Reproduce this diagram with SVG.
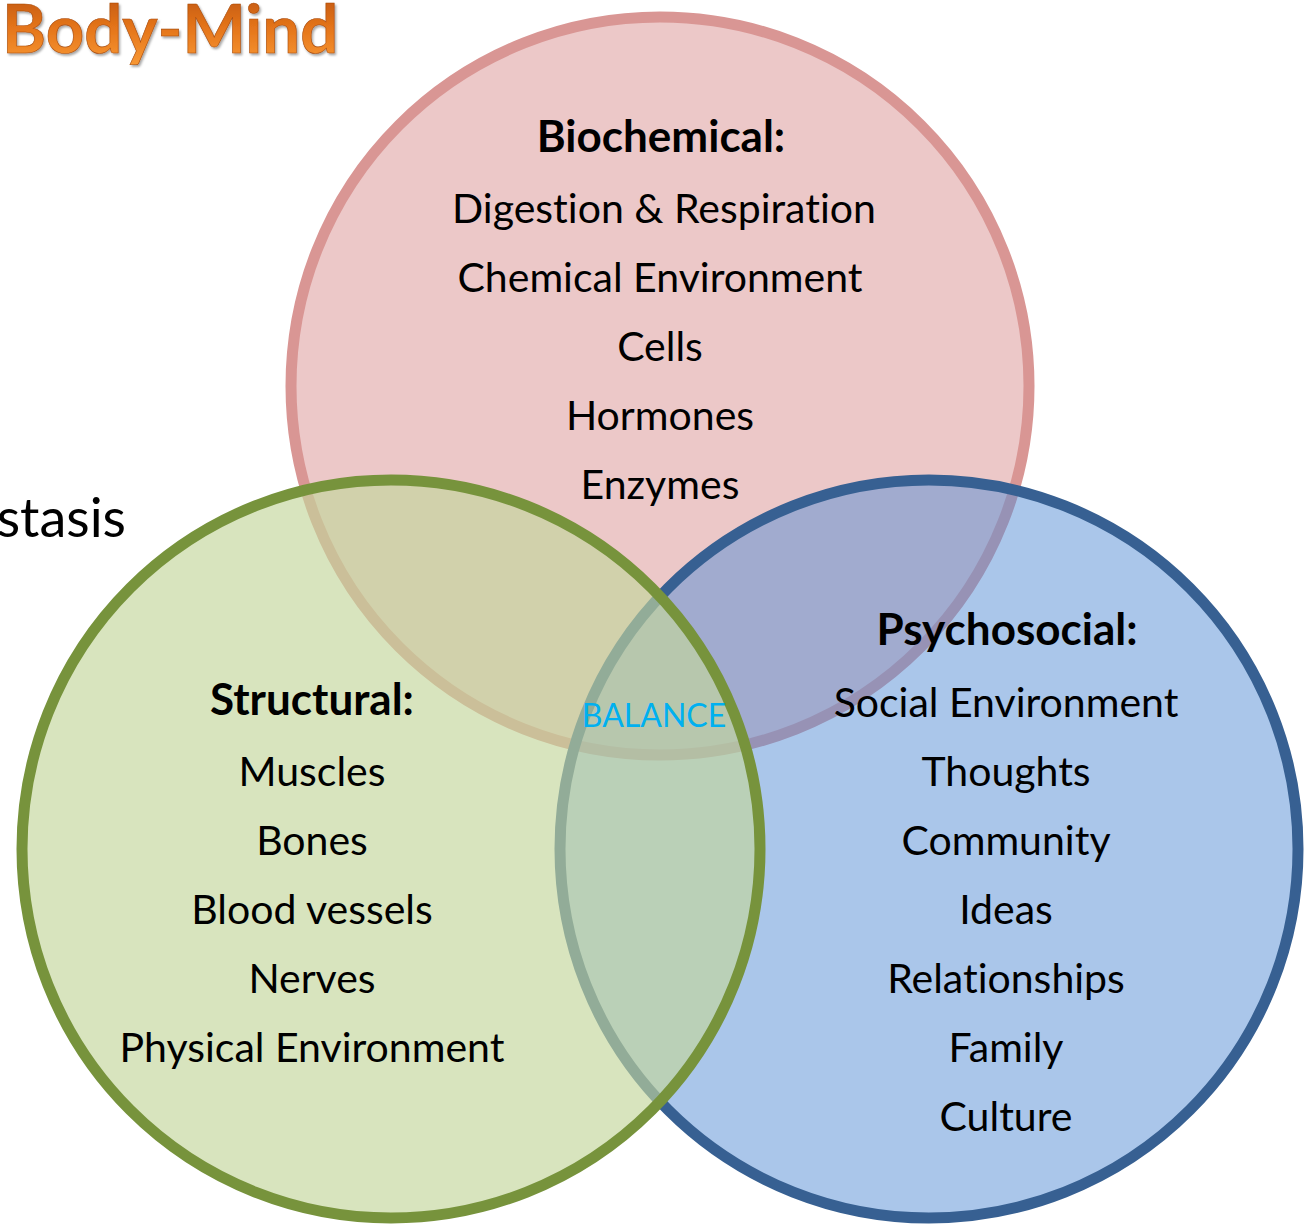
<svg xmlns="http://www.w3.org/2000/svg" width="1310" height="1226" viewBox="0 0 1310 1226">
  <defs>
    <linearGradient id="titleFill" x1="0" y1="0" x2="0" y2="1">
      <stop offset="0" stop-color="#B9520C"/>
      <stop offset="0.5" stop-color="#E4741A"/>
      <stop offset="1" stop-color="#F99A35"/>
    </linearGradient>
    <filter id="titleShadow" x="-5%" y="-20%" width="110%" height="150%">
      <feDropShadow dx="1.5" dy="2" stdDeviation="1.2" flood-color="#000" flood-opacity="0.35"/>
    </filter>
    <style>
      text { font-family: Lato, "Open Sans", sans-serif; font-variant-ligatures: none; }
      .ring { stroke-width: 11; }
      .bio { fill: #ECC8C8; stroke: #D99694; }
      .psy { fill: #558ED5; fill-opacity: 0.5; stroke: #376092; }
      .str { fill: #C3D69B; fill-opacity: 0.65; stroke: #77933C; }
      .head { font-weight: 700; font-size: 44px; fill: #000; text-anchor: middle; }
      .item { font-size: 41px; fill: #000; text-anchor: middle; }
      .balance { font-size: 32px; fill: #00B0F0; text-anchor: middle; }
      .title { font-weight: 700; font-size: 67px; fill: url(#titleFill); stroke: #A84A0A; stroke-width: 0.6; }
      .side { font-size: 54px; fill: #000; text-anchor: end; }
    </style>
  </defs>

  <rect width="1310" height="1226" fill="#fff"/>

  <!-- page heading and side word, both running off the left edge -->
  <g id="title">
    <text class="title" x="2" y="53" filter="url(#titleShadow)">Body-Mind</text>
    <text class="side" x="126" y="537">stasis</text>
  </g>

  <!-- circles: biochemical underneath, psychosocial over it, structural on top -->
  <g id="node-biochemical">
    <circle class="ring bio" cx="660" cy="386" r="369"/>
    <text class="head" x="661" y="152">Biochemical:</text>
    <text class="item" x="664" y="223">Digestion &amp; Respiration</text>
    <text class="item" x="660" y="292">Chemical Environment</text>
    <text class="item" x="660" y="361">Cells</text>
    <text class="item" x="660" y="430">Hormones</text>
    <text class="item" x="660" y="499">Enzymes</text>
  </g>

  <g id="node-psychosocial">
    <circle class="ring psy" cx="929" cy="849" r="369"/>
    <text class="head" x="1007" y="645">Psychosocial:</text>
    <text class="item" x="1006" y="717">Social Environment</text>
    <text class="item" x="1006" y="786">Thoughts</text>
    <text class="item" x="1006" y="855">Community</text>
    <text class="item" x="1006" y="924">Ideas</text>
    <text class="item" x="1006" y="993">Relationships</text>
    <text class="item" x="1006" y="1062">Family</text>
    <text class="item" x="1006" y="1131">Culture</text>
  </g>

  <g id="node-structural">
    <circle class="ring str" cx="391" cy="849" r="369"/>
    <text class="head" x="312" y="715">Structural:</text>
    <text class="item" x="312" y="786">Muscles</text>
    <text class="item" x="312" y="855">Bones</text>
    <text class="item" x="312" y="924">Blood vessels</text>
    <text class="item" x="312" y="993">Nerves</text>
    <text class="item" x="312" y="1062">Physical Environment</text>
  </g>

  <g id="node-balance">
    <text class="balance" x="654" y="727">BALANCE</text>
  </g>

  <g id="connectors"/>
</svg>
